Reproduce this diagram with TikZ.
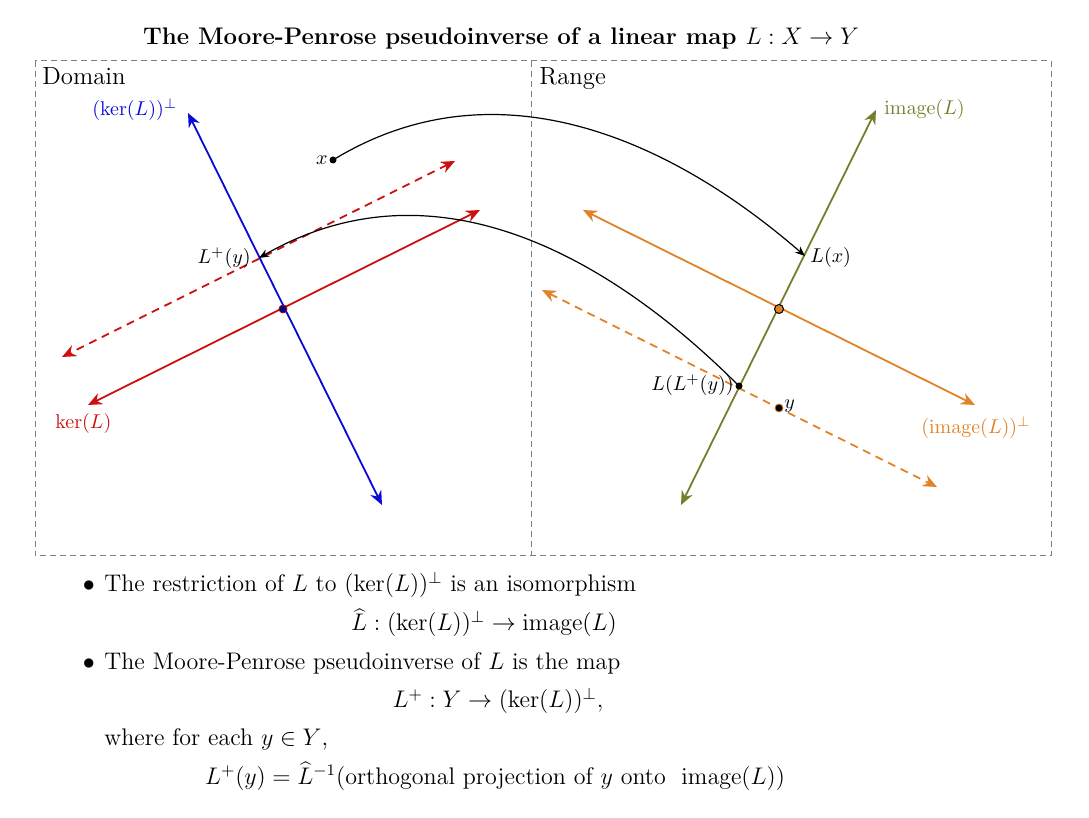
\documentclass[tikz,border=0pt]{standalone}
\usetikzlibrary{arrows.meta}
\definecolor{myred}{RGB}{204,16,16}
\definecolor{myblue}{RGB}{10,10,215}
\definecolor{myolive}{RGB}{120,125,45}
\definecolor{myorange}{RGB}{226,130,40}
\begin{document}
\begin{tikzpicture}[x=0.5pt,y=-0.5pt,
  frame/.style={draw=gray,line width=0.5pt,dash pattern=on 3pt off 2pt},
  axis/.style={line width=0.9pt,{Stealth[length=7pt,width=6pt]}-{Stealth[length=7pt,width=6pt]}},
  dashaxis/.style={axis,dash pattern=on 4pt off 3pt},
  mapcurve/.style={line width=0.6pt,-{Stealth[length=5pt,width=4pt]}},
  lbl/.style={inner sep=0pt,font=\normalsize},
  dotnode/.style={circle,fill=black,inner sep=0pt,minimum size=3.5pt},
  body/.style={inner sep=0pt,font=\large,anchor=base west},
  bodyc/.style={inner sep=0pt,font=\large,anchor=base}]
\useasboundingbox (0,0) rectangle (1089,818);

% title
\node[inner sep=0pt,anchor=base,font=\large\bfseries] (title) at (501,45)
  {The Moore-Penrose pseudoinverse of a linear map $L:X\to Y$};

% frames
\coordinate (ftl) at (35,61);
\coordinate (fbr) at (1051,556);
\coordinate (dtop) at (531,61);
\coordinate (dbot) at (531,556);
\draw[frame] (ftl) rectangle (fbr);
\draw[frame] (dtop) -- (dbot);
\node[inner sep=0pt,anchor=base west,font=\fontsize{12.4}{15}\selectfont] (dom) at (42,85) {Domain};
\node[inner sep=0pt,anchor=base west,font=\fontsize{12.4}{15}\selectfont] (ran) at (539,85) {Range};

% domain lines
\coordinate (kpA) at (382,505);
\coordinate (kpB) at (188,113);
\coordinate (kA) at (480,210);
\coordinate (kB) at (88,405);
\coordinate (kdA) at (455,161);
\coordinate (kdB) at (62,357);
\draw[axis,myblue] (kpA) -- (kpB);
\draw[axis,myred] (kA) -- (kB);
\draw[dashaxis,myred] (kdA) -- (kdB);
\node[circle,fill=myblue!60!black,draw=myred!70!black,line width=0.4pt,inner sep=0pt,minimum size=4pt] (o1) at (283,309) {};
\node[lbl,text=myblue,anchor=west] (lkp) at (92,110) {$(\ker(L))^\perp$};
\node[lbl,text=myred,anchor=west] (lk) at (55,424) {$\ker(L)$};

% range lines
\coordinate (imA) at (681,505);
\coordinate (imB) at (876,110);
\coordinate (ipA) at (583,210);
\coordinate (ipB) at (975,405);
\coordinate (ipdA) at (542,290);
\coordinate (ipdB) at (937,487);
\draw[axis,myolive] (imA) -- (imB);
\draw[axis,myorange] (ipA) -- (ipB);
\draw[dashaxis,myorange] (ipdA) -- (ipdB);
\node[circle,fill=myorange,draw=black,line width=0.5pt,inner sep=0pt,minimum size=4.5pt] (o2) at (779,309) {};
\node[lbl,text=myolive,anchor=west] (lim) at (884,110) {$\mathrm{image}(L)$};
\node[lbl,text=myorange,anchor=west] (lip) at (921,428) {$(\mathrm{image}(L))^\perp$};

% points
\node[dotnode] (x) at (333,160) {};
\node[lbl,anchor=east] (lx) at (328,160) {$x$};
\coordinate (Lx) at (805,256);
\node[lbl,anchor=west] (lLx) at (810,258) {$L(x)$};
\node[dotnode] (LLy) at (739,386) {};
\node[lbl,anchor=east] (lLLy) at (734,385) {$L(L^+(y))$};
\node[circle,fill=black,draw=myorange,line width=0.4pt,inner sep=0pt,minimum size=4pt] (y) at (779,408) {};
\node[lbl,anchor=west] (ly) at (784,406) {$y$};
\coordinate (Lpy) at (259,258);
\node[lbl,anchor=east] (lLpy) at (251,258) {$L^+(y)$};

% maps
\draw[mapcurve] (x.center) .. controls (490,64) and (662,132) .. (Lx);
\draw[mapcurve] (LLy.center) .. controls (602,249) and (429,160) .. (Lpy);

% text
\node[bodyc] (b1) at (89,592) {$\bullet$};
\node[body] (t1) at (104,592) {The restriction of $L$ to $(\ker(L))^\perp$ is an isomorphism};
\node[bodyc] (t2) at (484,631) {$\widehat{L}:(\ker(L))^\perp\to\mathrm{image}(L)$};
\node[bodyc] (b2) at (89,670) {$\bullet$};
\node[body] (t3) at (104,670) {The Moore-Penrose pseudoinverse of $L$ is the map};
\node[bodyc] (t4) at (498,708) {$L^+:Y\to(\ker(L))^\perp,$};
\node[body] (t5) at (104,746) {where for each $y\in Y$,};
\node[bodyc] (t6) at (495,784) {$L^+(y)=\widehat{L}^{-1}(\mbox{orthogonal projection of $y$ onto\ \ }\mathrm{image}(L))$};
\end{tikzpicture}
\end{document}
